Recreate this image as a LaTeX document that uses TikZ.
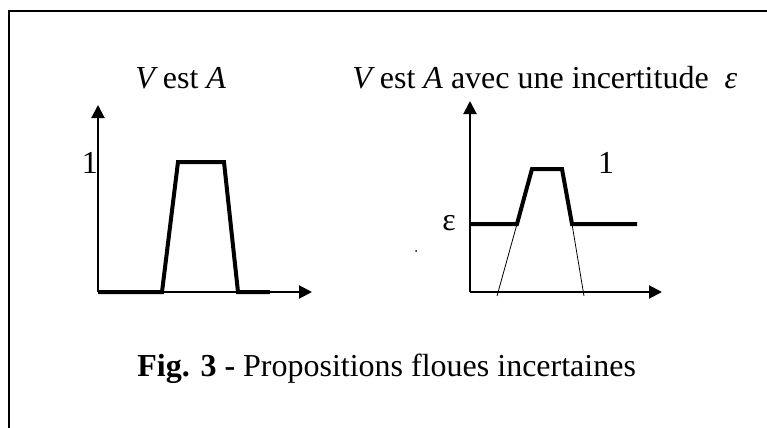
\documentclass[tikz,border=0pt]{standalone}
\usepackage{fontspec}
\setmainfont{Liberation Serif}
\usetikzlibrary{arrows.meta}

\begin{document}
\begin{tikzpicture}[x=0.5pt,y=-0.5pt,
    axis/.style={line width=1pt,-{Triangle[length=6.5pt,width=6.5pt]}},
    mf/.style={line width=2pt},
    guide/.style={line width=0.4pt},
    txt/.style={font=\fontsize{16}{19}\selectfont,inner sep=0pt}]
  \useasboundingbox (0,0) rectangle (767,428);
  % frame
  \draw[line width=1pt] (9,428) -- (9,11) -- (767,11);
  % left: V est A
  \coordinate (o1) at (98,292);
  \coordinate (x1) at (312,292);
  \coordinate (y1) at (98,105);
  \draw[axis] (o1) -- (x1);
  \draw[axis] (o1) -- (y1);
  \draw[mf] (o1) -- (162,292) -- (178,162) -- (224,162) -- (238,292) -- (270,292);
  \node[txt,anchor=base west] (t1) at (135,88) {\itshape V\upshape{} est \itshape A};
  \node[txt] (one1) at (90,163) {1};
  % right: with uncertainty
  \coordinate (o2) at (470,292);
  \coordinate (x2) at (662,292);
  \coordinate (y2) at (470,101);
  \coordinate (a) at (517,224);
  \coordinate (b) at (572,224);
  \draw[axis] (o2) -- (x2);
  \draw[axis] (o2) -- (y2);
  \draw[mf] (470,224) -- (a) -- (532,169) -- (562,169) -- (b) -- (637,224);
  \draw[guide] (a) -- (497,296);
  \draw[guide] (b) -- (584,296);
  \node[txt,anchor=base west] (t2) at (352,88)
    {\itshape V\upshape{} est \itshape A\upshape{} avec une incertitude\hspace{0.5em}\itshape ε};
  \node[txt] (one2) at (606,163) {1};
  \node[txt] (eps) at (449,223) {ε};
  \fill (416,251) circle (0.5pt);
  % caption
  \node[txt,anchor=base west] (cap) at (137,376) {\textbf{Fig. 3 -} Propositions floues incertaines};
\end{tikzpicture}
\end{document}
